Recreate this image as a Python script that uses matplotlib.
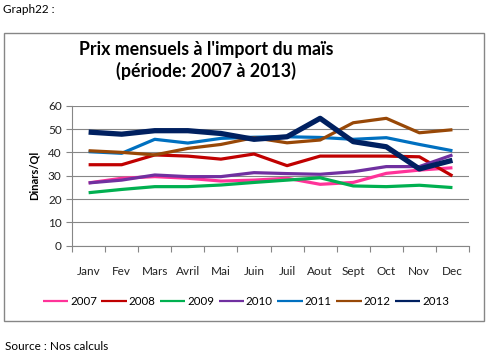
import matplotlib.pyplot as plt
from matplotlib.patches import Rectangle

months = ["Janv", "Fev", "Mars", "Avril", "Mai", "Juin", "Juil", "Aout",
          "Sept", "Oct", "Nov", "Dec"]

p2007 = [26.9, 28.9, 29.6, 28.9, 27.7, 28.1, 28.9, 26.3, 27.1, 31.0, 32.4, 33.4]
p2008 = [34.7, 34.7, 38.9, 38.4, 37.1, 39.3, 34.3, 38.4, 38.4, 38.4, 38.1, 29.9]
p2009 = [22.7, 24.1, 25.3, 25.3, 26.0, 27.1, 28.1, 29.1, 25.6, 25.3, 25.9, 24.9]
p2010 = [26.9, 28.1, 30.3, 29.6, 29.6, 31.3, 30.9, 30.6, 31.7, 33.9, 33.9, 38.9]
p2011 = [40.3, 39.6, 45.6, 44.0, 46.0, 46.5, 46.7, 46.4, 45.6, 46.3, 43.4, 40.7]
p2012 = [40.7, 40.0, 38.9, 41.7, 43.4, 46.3, 44.1, 45.3, 52.7, 54.6, 48.4, 49.7]
p2013 = [48.7, 47.8, 49.3, 49.3, 48.1, 45.6, 46.7, 54.6, 44.6, 42.4, 32.9, 36.6]

series = [("2007", p2007, "#ff3399", 2.3),
          ("2008", p2008, "#c00000", 2.3),
          ("2009", p2009, "#00b050", 2.3),
          ("2010", p2010, "#7030a0", 2.3),
          ("2011", p2011, "#0070c0", 2.3),
          ("2012", p2012, "#984807", 2.3),
          ("2013", p2013, "#002060", 3.8)]

plt.rcParams['font.family'] = ['Lato', 'DejaVu Sans']

fig = plt.figure(figsize=(4.87, 3.56), dpi=100)
ax = fig.add_axes([0.148, 0.310, 0.815, 0.393])

x = list(range(len(months)))
for name, vals, col, lw in series:
    ax.plot(x, vals, color=col, lw=lw, label=name, solid_joinstyle='round',
            solid_capstyle='butt')

ax.set_xlim(-0.5, 11.5)
ax.set_ylim(0, 60)
ax.set_yticks(range(0, 61, 10))
ax.set_xticks([i - 0.5 for i in range(13)])
ax.set_xticklabels([])
ax.set_xticks(x, minor=True)
ax.set_xticklabels(months, minor=True)
ax.tick_params(axis='x', which='major', length=4, color='#868686', direction='out')
ax.tick_params(axis='x', which='minor', length=0, pad=15, labelsize=8.5, labelcolor='#222222')
ax.tick_params(axis='y', length=4, color='#868686', labelsize=8.5, labelcolor='#222222')
ax.grid(axis='y', color='#868686', lw=0.8)
ax.set_axisbelow(True)
for s in ['top', 'right']:
    ax.spines[s].set_visible(False)
for s in ['left', 'bottom']:
    ax.spines[s].set_color('#868686')

ax.set_ylabel("Dinars/Ql", fontsize=8, fontweight='bold', labelpad=6)

fig.text(0.424, 0.845, "Prix mensuels à l'import du maïs", ha='center',
         fontsize=12.8, fontweight='bold')
fig.text(0.424, 0.783, "(période: 2007 à 2013)", ha='center',
         fontsize=12.8, fontweight='bold')

leg = fig.legend(loc='center', bbox_to_anchor=(0.505, 0.153), ncol=7, frameon=False,
                 fontsize=8.3, handlelength=2.2, handletextpad=0.15, columnspacing=0.4,
                 borderaxespad=0)
for h in leg.get_lines():
    h.set_linewidth(1.6)

fig.patches.append(Rectangle((4 / 487, 1 - 321 / 356), 480 / 487, 288 / 356,
                             transform=fig.transFigure, fill=False,
                             edgecolor='#868686', lw=1))

fig.text(0.006, 0.972, "Graph22 :", fontsize=8.5, va='center')
fig.text(0.010, 0.028, "Source : Nos calculs", fontsize=8.5, va='center')

fig.savefig("out.png", dpi=100)
